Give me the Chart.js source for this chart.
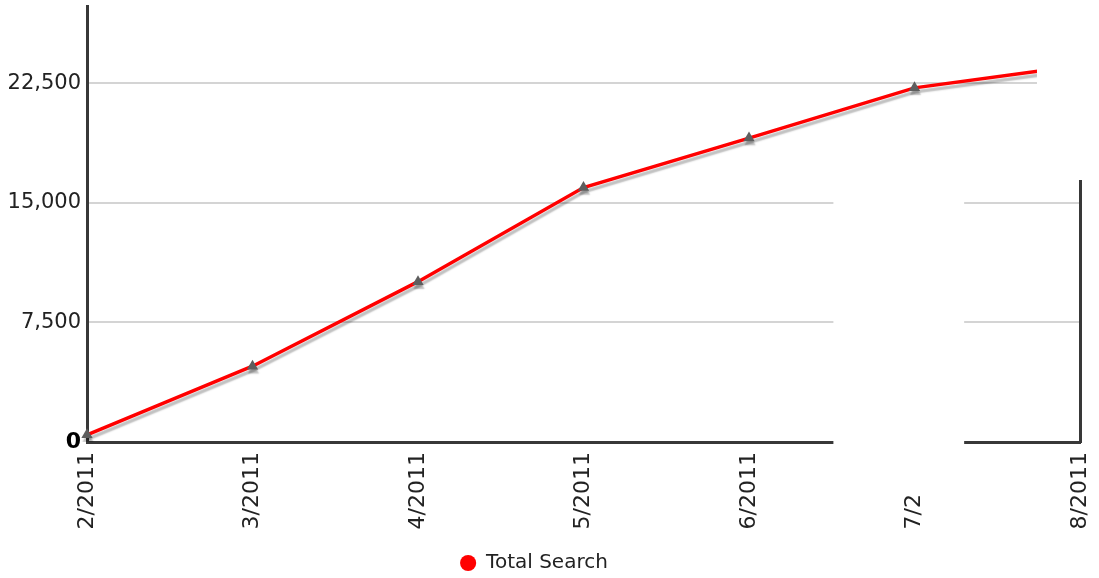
<!DOCTYPE html>
<html>
<head>
<meta charset="utf-8">
<script src="https://cdn.jsdelivr.net/npm/chart.js@4/dist/chart.umd.min.js"></script>
<style>
  html, body { margin: 0; padding: 0; background: #fff; }
  #wrap { width: 1099px; height: 578px; position: relative; }
</style>
</head>
<body>
<div id="wrap"><canvas id="c" width="1099" height="578"></canvas></div>
<script>
// Monthly cumulative searches
const months = ['2/2011', '3/2011', '4/2011', '5/2011', '6/2011', '7/2011', '8/2011'];
const totalSearch = [450, 4750, 10050, 15950, 19050, 22200, 23600];
const yTickValues = [0, 7500, 15000, 22500];
const yMax = 27300;

const FONT = 'DejaVu Sans';
const AXIS = '#383838';

// soft grey drop shadow under the series line
const lineShadow = {
  id: 'lineShadow',
  beforeDatasetDraw(chart) {
    const ctx = chart.ctx;
    ctx.save();
    ctx.shadowColor = 'rgba(0,0,0,0.25)';
    ctx.shadowOffsetX = 1;
    ctx.shadowOffsetY = 4;
    ctx.shadowBlur = 1.5;
  },
  afterDatasetDraw(chart) {
    chart.ctx.restore();
  }
};

// nudge the legend a little left of the canvas centre
const legendShift = {
  id: 'legendShift',
  afterLayout(chart) {
    if (chart.legend) chart.legend.right -= 12;
  }
};

// blank panels left over from the plot's redraw
const blankPanels = {
  id: 'blankPanels',
  afterDraw(chart) {
    const ctx = chart.ctx;
    const x = chart.scales.x;
    const area = chart.chartArea;
    const step = x.getPixelForValue(1) - x.getPixelForValue(0);
    const panelTop = area.top + 173.5;
    ctx.save();
    ctx.fillStyle = '#ffffff';
    // middle panel across the 6/2011 - 7/2011 span
    const l1 = x.getPixelForValue(4) + 0.51 * step;
    const r1 = x.getPixelForValue(5) + 0.30 * step;
    ctx.fillRect(l1, panelTop, r1 - l1, area.bottom + 52 - panelTop);
    // upper right corner
    const l2 = x.getPixelForValue(6) - 0.26 * step;
    ctx.fillRect(l2, 0, chart.width - l2, panelTop);
    ctx.restore();
  }
};

function noEdgePadding(scale) {
  scale.paddingTop = 0;
  scale.paddingBottom = 0;
  scale.paddingLeft = 0;
  scale.paddingRight = 0;
}

new Chart(document.getElementById('c'), {
  type: 'line',
  data: {
    labels: months,
    datasets: [{
      label: 'Total Search',
      data: totalSearch,
      borderColor: '#ff0000',
      backgroundColor: '#ff0000',
      borderWidth: 3.5,
      tension: 0,
      fill: false,
      pointStyle: 'triangle',
      pointRadius: 6.5,
      pointBackgroundColor: '#5e5e5e',
      pointBorderColor: '#5e5e5e',
      pointBorderWidth: 0
    }]
  },
  options: {
    responsive: false,
    animation: false,
    devicePixelRatio: 1,
    layout: { padding: { top: -1, right: 19, left: 0, bottom: -5 } },
    plugins: {
      legend: {
        display: true,
        position: 'bottom',
        labels: {
          usePointStyle: true,
          pointStyle: 'circle',
          boxWidth: 16,
          boxHeight: 11.4,
          padding: 0,
          color: '#222',
          font: { family: FONT, size: 20 },
          generateLabels(chart) {
            return chart.data.datasets.map((ds, i) => ({
              text: ds.label,
              fillStyle: '#ff0000',
              strokeStyle: '#ff0000',
              lineWidth: 0,
              pointStyle: 'circle',
              datasetIndex: i,
              fontColor: '#222'
            }));
          }
        }
      },
      tooltip: { enabled: false }
    },
    scales: {
      x: {
        type: 'category',
        offset: false,
        grid: { display: false, drawTicks: false },
        border: { display: true, color: AXIS, width: 3 },
        ticks: {
          autoSkip: false,
          minRotation: 90,
          maxRotation: 90,
          padding: 10,
          color: '#222',
          font: { family: FONT, size: 22 }
        },
        afterFit(scale) { scale.height = 111; noEdgePadding(scale); }
      },
      y: {
        type: 'linear',
        min: 0,
        max: yMax,
        afterBuildTicks(scale) {
          scale.ticks = yTickValues.map(v => ({ value: v }));
        },
        grid: {
          drawTicks: false,
          color: (c) => (c.tick && c.tick.value === 0 ? 'rgba(0,0,0,0)' : '#d4d4d4'),
          lineWidth: 2
        },
        border: { display: true, color: AXIS, width: 3 },
        ticks: {
          padding: 6,
          color: (c) => (c.tick && c.tick.value === 0 ? '#000' : '#222'),
          font: (c) => (c.tick && c.tick.value === 0
            ? { family: FONT, size: 22, weight: 'bold' }
            : { family: FONT, size: 21 }),
          callback: (v) => v.toLocaleString('en-US')
        },
        afterFit(scale) { scale.width = 87; noEdgePadding(scale); }
      },
      yRight: {
        type: 'linear',
        position: 'right',
        min: 0,
        max: yMax,
        grid: { display: false, drawTicks: false },
        border: { display: true, color: AXIS, width: 3 },
        ticks: { display: false },
        afterFit(scale) { scale.width = 0; noEdgePadding(scale); }
      }
    }
  },
  plugins: [lineShadow, legendShift, blankPanels]
});
</script>
</body>
</html>
